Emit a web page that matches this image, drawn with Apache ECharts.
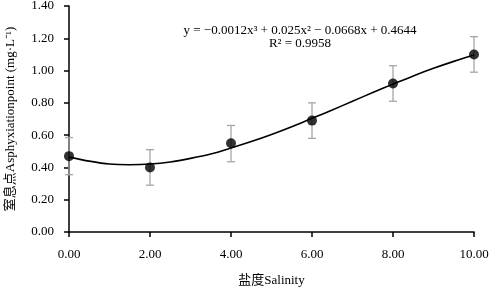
<!DOCTYPE html>
<html>
<head>
<meta charset="utf-8">
<script src="https://cdn.jsdelivr.net/npm/echarts@6/dist/echarts.min.js"></script>
<style>
  html, body { margin: 0; padding: 0; background: #fff; }
  #chart { width: 491px; height: 287px; }
</style>
</head>
<body>
<div id="chart"></div>
<script>
// measured points
var salinity = [0, 2, 4, 6, 8, 10];
var asphyxia = [0.47, 0.40, 0.55, 0.69, 0.92, 1.10];
var errLow = [0.355, 0.29, 0.435, 0.58, 0.81, 0.99];
var errHigh = [0.585, 0.51, 0.66, 0.80, 1.03, 1.21];

// trend curve
var trendX = [0, 0.5, 1, 1.5, 2, 2.5, 3, 3.5, 4, 4.5, 5, 5.5, 6, 6.5, 7, 7.5, 8, 8.5, 9, 9.5, 10];
var trendY = [0.464, 0.439, 0.421, 0.417, 0.421, 0.434, 0.456, 0.483, 0.520, 0.560, 0.604, 0.652,
              0.704, 0.756, 0.810, 0.864, 0.916, 0.967, 1.014, 1.057, 1.096];

var FONT = "'Liberation Serif', 'Noto Sans CJK SC', serif";

var chart = echarts.init(document.getElementById('chart'), null, { renderer: 'canvas' });

var pts = salinity.map(function(x, i) { return [x, asphyxia[i]]; });
var bars = salinity.map(function(x, i) { return [x, errLow[i], errHigh[i]]; });
var trend = trendX.map(function(x, i) { return [x, trendY[i]]; });

chart.setOption({
  animation: false,
  grid: { left: 69, right: 17, top: 6, bottom: 55, containLabel: false, outerBoundsMode: 'none' },
  xAxis: {
    type: 'value',
    min: 0, max: 10, interval: 2,
    name: '盐度Salinity',
    nameLocation: 'middle',
    nameGap: 42,
    nameTextStyle: { fontFamily: FONT, fontSize: 13, color: '#000' },
    axisLine: { lineStyle: { color: '#000', width: 1.5 } },
    axisTick: { show: true, length: 5, lineStyle: { color: '#000', width: 1.5 } },
    axisLabel: {
      fontFamily: FONT, fontSize: 13, color: '#000', margin: 16,
      formatter: function(v) { return v.toFixed(2); }
    },
    splitLine: { show: false }
  },
  yAxis: {
    type: 'value',
    min: 0, max: 1.4, interval: 0.2,
    name: '窒息点Asphyxiationpoint (mg·L⁻¹)',
    nameLocation: 'middle',
    nameGap: 52,
    nameTextStyle: { fontFamily: FONT, fontSize: 13, color: '#000' },
    axisLine: { show: true, lineStyle: { color: '#000', width: 1.5 } },
    axisTick: { show: true, length: 5, lineStyle: { color: '#000', width: 1.5 } },
    axisLabel: {
      fontFamily: FONT, fontSize: 13, color: '#000', margin: 15,
      formatter: function(v) { return v.toFixed(2); }
    },
    splitLine: { show: false }
  },
  graphic: [{
    type: 'text',
    x: 300, y: 24,
    style: {
      text: 'y = −0.0012x³ + 0.025x² − 0.0668x + 0.4644\nR² = 0.9958',
      fontFamily: FONT,
      fontSize: 13,
      fill: '#000',
      textAlign: 'center',
      align: 'center',
      lineHeight: 13
    }
  }],
  series: [
    {
      type: 'custom',
      name: 'err',
      data: bars,
      z: 1,
      renderItem: function(params, api) {
        var x = api.value(0);
        var lo = api.coord([x, api.value(1)]);
        var hi = api.coord([x, api.value(2)]);
        var w = 4;
        var st = { stroke: '#a6a6a6', lineWidth: 1.3 };
        return {
          type: 'group',
          children: [
            { type: 'line', shape: { x1: lo[0], y1: lo[1], x2: hi[0], y2: hi[1] }, style: st },
            { type: 'line', shape: { x1: lo[0] - w, y1: lo[1], x2: lo[0] + w, y2: lo[1] }, style: st },
            { type: 'line', shape: { x1: hi[0] - w, y1: hi[1], x2: hi[0] + w, y2: hi[1] }, style: st }
          ]
        };
      }
    },
    {
      type: 'line',
      name: 'trend',
      data: trend,
      smooth: 0.3,
      showSymbol: false,
      z: 2,
      lineStyle: { color: '#000', width: 1.6 }
    },
    {
      type: 'scatter',
      name: 'measured',
      data: pts,
      symbol: 'circle',
      symbolSize: 10,
      z: 3,
      itemStyle: { color: '#000' }
    }
  ]
});
</script>
</body>
</html>
